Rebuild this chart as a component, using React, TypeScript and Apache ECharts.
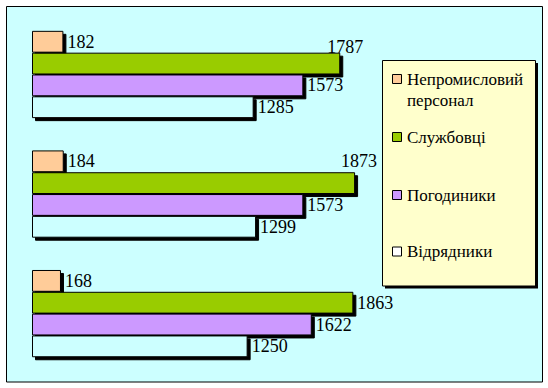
import React, { useEffect, useRef } from 'react';
import * as echarts from 'echarts';

// Categories (three groups, no visible axis labels)
const categories = ['1', '2', '3'];
const seriesNames = ['Непромисловий\nперсонал', 'Службовці', 'Погодиники', 'Відрядники'];
const nonProduction = [182, 184, 168];
const clerks = [1787, 1873, 1863];
const hourly = [1573, 1573, 1622];
const posted = [1285, 1299, 1250];
const barColors = ['#FFCC99', '#99CC00', '#CC99FF', '#CCFFFF'];
const swatchColors = ['#FFCC99', '#99CC00', '#CC99FF', '#FFFFFF'];
const xMax = 2000;

const FONT = 'Liberation Serif';

export default function App() {
  const ref = useRef<HTMLDivElement>(null);
  useEffect(() => {
    const chart = echarts.init(ref.current!, null, { renderer: 'svg' });
    const seriesData = [nonProduction, clerks, hourly, posted];
    // manual label shifts (as in the original) for some bars
    const labelShift: (number[] | null)[][] = [
      [null, null, null],
      [[-17, -17], [-18, -22], null],
      [null, null, null],
      [null, null, null],
    ];

    const legendY = [79, 137, 195, 251.5];
    const legendItems: any[] = [];
    seriesNames.forEach((name, i) => {
      legendItems.push({
        type: 'rect',
        shape: { x: 392.5, y: legendY[i] - 4.5, width: 9, height: 9 },
        style: { fill: swatchColors[i], stroke: '#000', lineWidth: 1 },
        z: 10,
      });
      legendItems.push({
        type: 'text',
        x: 407,
        y: legendY[i] - 10.5,
        style: {
          text: name,
          fontFamily: FONT,
          fontSize: 17,
          fill: '#000',
          verticalAlign: 'top',
          align: 'left',
          lineHeight: 21,
        },
        z: 10,
      });
    });

    chart.setOption({
      animation: false,
      backgroundColor: '#FFFFFF',
      textStyle: { fontFamily: FONT },
      grid: { left: 32, right: 171, top: 14.7, bottom: 14.6, containLabel: false },
      xAxis: {
        type: 'value',
        min: 0,
        max: xMax,
        show: false,
      },
      yAxis: {
        type: 'category',
        data: categories,
        inverse: true,
        show: false,
      },
      graphic: [
        {
          type: 'rect',
          shape: { x: 6.5, y: 6.5, width: 536, height: 375.5 },
          style: { fill: '#CCFFFF', stroke: '#000', lineWidth: 1 },
          z: -10,
        },
        {
          type: 'rect',
          shape: { x: 385, y: 63, width: 153, height: 225.5 },
          style: { fill: '#000' },
          z: 9,
        },
        {
          type: 'rect',
          shape: { x: 382.5, y: 60.5, width: 153, height: 225.5 },
          style: { fill: '#FFFFCC', stroke: '#000', lineWidth: 1 },
          z: 9,
        },
        ...legendItems,
      ],
      series: seriesData.map((vals, si) => ({
        type: 'bar',
        name: seriesNames[si].replace('\n', ' '),
        barGap: '0%',
        barCategoryGap: '27%',
        itemStyle: {
          color: barColors[si],
          borderColor: '#000',
          borderWidth: 1,
          shadowColor: '#000',
          shadowBlur: 0,
          shadowOffsetX: 3,
          shadowOffsetY: 3,
        },
        label: {
          show: true,
          position: 'right',
          distance: 4,
          color: '#000',
          fontFamily: FONT,
          fontSize: 18,
        },
        data: vals.map((v, di) => {
          const shift = labelShift[si][di];
          return shift
            ? { value: v, label: { offset: shift } }
            : { value: v };
        }),
      })),
    });
    return () => chart.dispose();
  }, []);
  return (
    <div
      ref={ref}
      style={{ position: 'fixed', left: 0, top: 0, width: 548, height: 388, background: '#fff' }}
    />
  );
}
